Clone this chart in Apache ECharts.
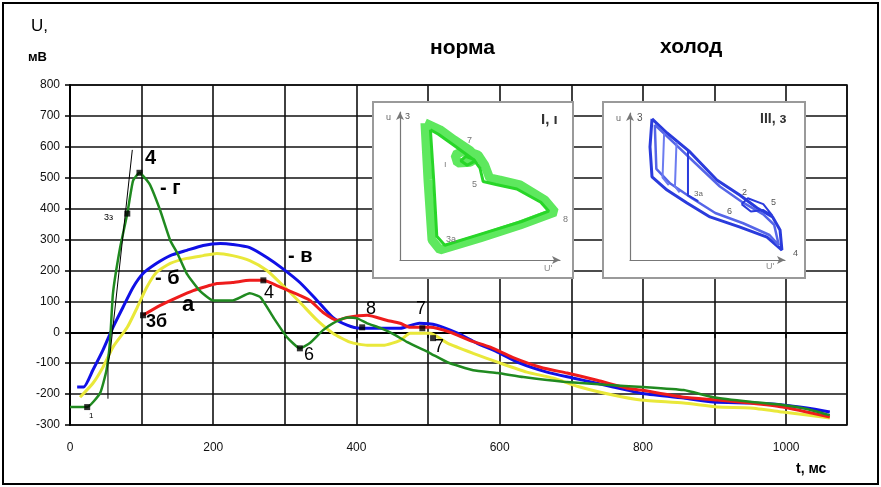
<!DOCTYPE html>
<html>
<head>
<meta charset="utf-8">
<script src="https://cdn.jsdelivr.net/npm/echarts@6/dist/echarts.min.js"></script>
<style>html,body{margin:0;padding:0;background:#fff}#c{width:881px;height:487px}</style>
</head>
<body>
<div id="c"></div>
<script>
// ---- main chart data (t, ms / U, mV) ----
var greenT = [0, 24, 42, 51, 56, 60, 70, 80, 88, 97, 111, 126, 140, 150, 163, 181, 200, 227, 251, 266, 284, 303, 321, 335, 353, 367, 387, 401, 415, 433, 451, 471, 503, 527, 563, 597, 633, 689, 748, 800, 857, 898, 950, 995, 1029, 1061];
var greenU = [-242, -242, -197, -122, -26, 126, 274, 384, 490, 516, 480, 394, 297, 255, 190, 135, 103, 103, 126, 113, 48, -16, -52, -35, 6, 29, 48, 45, 29, 14, -5, -32, -68, -97, -123, -132, -145, -160, -170, -177, -187, -210, -225, -235, -248, -268];
var blueT = [10, 19, 32, 46, 60, 74, 88, 102, 121, 140, 163, 186, 210, 227, 251, 275, 297, 321, 345, 367, 387, 405, 428, 461, 488, 512, 541, 568, 597, 628, 666, 702, 736, 778, 797, 857, 898, 950, 995, 1029, 1061];
var blueU = [-177, -177, -122, -58, 16, 81, 145, 190, 223, 248, 265, 281, 287, 284, 274, 242, 206, 161, 103, 48, 23, 13, 13, 13, 29, 23, -3, -35, -64, -100, -129, -148, -165, -187, -197, -213, -226, -229, -235, -245, -258];
var yellowT = [14, 32, 46, 60, 80, 94, 107, 121, 140, 163, 186, 205, 227, 251, 275, 297, 321, 345, 367, 391, 415, 437, 461, 475, 503, 527, 563, 601, 638, 674, 712, 758, 797, 857, 904, 950, 995, 1061];
var yellowU = [-210, -165, -113, -48, 16, 81, 145, 194, 223, 239, 248, 255, 248, 232, 200, 152, 97, 39, -3, -32, -42, -42, -26, -3, -3, -35, -68, -100, -129, -148, -177, -203, -219, -229, -242, -245, -258, -277];
var redT = [102, 126, 150, 172, 196, 205, 227, 251, 270, 288, 311, 335, 353, 373, 387, 415, 442, 461, 475, 503, 531, 558, 587, 618, 657, 694, 736, 778, 797, 857, 904, 950, 995, 1061];
var redU = [55, 87, 113, 135, 152, 158, 161, 168, 168, 152, 129, 103, 65, 39, 48, 55, 39, 29, 16, 16, 0, -26, -48, -81, -113, -132, -155, -181, -187, -210, -219, -229, -242, -274];
var markerT = [24, 80, 97, 321, 102, 270, 408, 492, 507];
var markerU = [-242, 384, 516, -52, 55, 168, 16, 13, -19];
var tangentT = [53, 53, 56, 87];
var tangentU = [-215, -100, -68, 590];
var xTicks = [0, 200, 400, 600, 800, 1000];

// ---- inset loops (relative units 0..100) ----
var greenLoopX = [15.6, 17.5, 20, 25, 50, 75, 96.9, 90.6, 75, 62.5, 56, 53, 48.8, 40.6, 34.4, 36, 43.8, 48, 43.8, 34, 25, 15.6];
var greenLoopY = [92.6, 54, 13.5, 6.8, 14.9, 23.6, 32.4, 40.5, 50.7, 54, 55.4, 64, 71, 74, 71, 65.5, 66, 69, 74, 81, 88, 92.6];
var greenLoop2X = [19, 21, 23, 28, 52, 76, 93, 88, 73, 60, 52, 50, 46, 41, 38, 42, 47, 42, 33, 24, 19];
var greenLoop2Y = [88, 55, 16, 10, 18, 26, 33, 39, 48, 51, 53, 62, 68, 70, 67, 64, 67, 71, 78, 85, 88];
var blueLoopX = [14.2, 12.9, 14.2, 23.9, 36.8, 51.6, 71, 88.4, 98, 96.8, 92, 82, 71, 56, 38.7, 23.9, 14.2];
var blueLoopY = [96, 77, 56.5, 47.6, 38.8, 29.3, 22.4, 15.6, 6.8, 20.4, 29.3, 35.4, 44, 54.4, 73.5, 86.4, 96];
var blueLoop2X = [16, 17, 26, 40, 55, 73, 90, 96, 93, 86, 73, 58, 42, 28, 16];
var blueLoop2Y = [92, 62, 52, 42, 32, 25, 17, 10, 24, 31, 39, 50, 66, 80, 92];
var blueStrokeAX = [37.4, 37.4, 44];
var blueStrokeAY = [75, 44, 40];
var blueStrokeBX = [30, 29, 32];
var blueStrokeBY = [80, 50, 46];
var blueStrokeCX = [22, 21, 25];
var blueStrokeCY = [86, 56, 51];
var blueSmallX = [72, 78, 86, 92, 86, 76, 72];
var blueSmallY = [38, 33, 34, 30, 38, 42, 38];

function pairs(a, b) { return a.map(function (v, i) { return [v, b[i]]; }); }

var chart = echarts.init(document.getElementById('c'), null, { renderer: 'canvas' });
var FONT = 'Arial, "Liberation Sans", sans-serif';

function lbl(text, left, top, size, weight) {
  return { type: 'text', left: left, top: top, z: 20,
    style: { text: text, fill: '#000', font: (weight || 'bold') + ' ' + size + 'px ' + FONT } };
}

function insetAxes(gi) {
  return {
    gridIndex: gi, min: 0, max: 100, show: true,
    axisLine: { show: true, lineStyle: { color: '#777', width: 1.2 }, symbol: ['none', 'arrow'], symbolSize: [6, 8] },
    axisTick: { show: false }, axisLabel: { show: false }, splitLine: { show: false }, z: 6
  };
}

var option = {
  backgroundColor: '#fff',
  animation: false,
  grid: [
    { left: 70, right: 34, top: 85, bottom: 62, show: true, borderColor: '#000', borderWidth: 1.5, z: 0 },
    { left: 400, top: 112, width: 160, height: 148, z: 6 },
    { left: 630, top: 113, width: 155, height: 147, z: 6 }
  ],
  xAxis: [
    { type: 'value', gridIndex: 0, min: 0, max: 1085, interval: 100,
      axisLine: { lineStyle: { color: '#000', width: 2 } },
      axisTick: { show: true, length: 6, lineStyle: { color: '#000', width: 1.5 } },
      splitLine: { show: true, lineStyle: { color: '#111', width: 1.6 } },
      axisLabel: { color: '#111', fontFamily: FONT, fontSize: 12, margin: 17, showMaxLabel: false,
        formatter: function (v) { return xTicks.indexOf(v) >= 0 ? String(v) : ''; } } },
    Object.assign({}, insetAxes(1), { type: 'value' }),
    Object.assign({}, insetAxes(2), { type: 'value' })
  ],
  yAxis: [
    { type: 'value', gridIndex: 0, min: -300, max: 800, interval: 100,
      axisLine: { show: true, lineStyle: { color: '#000', width: 2 } },
      axisTick: { show: true, length: 5, lineStyle: { color: '#000', width: 1.5 } },
      splitLine: { show: true, lineStyle: { color: '#111', width: 1.6 } },
      axisLabel: { color: '#111', fontFamily: FONT, fontSize: 12, margin: 10 } },
    Object.assign({}, insetAxes(1), { type: 'value' }),
    Object.assign({}, insetAxes(2), { type: 'value' })
  ],
  series: [
    { name: 'б', type: 'line', data: pairs(yellowT, yellowU), showSymbol: false, smooth: 0.2, z: 3,
      lineStyle: { color: '#e9e83a', width: 3 } },
    { name: 'в', type: 'line', data: pairs(blueT, blueU), showSymbol: false, smooth: 0.2, z: 4,
      lineStyle: { color: '#1010e6', width: 3 } },
    { name: 'а', type: 'line', data: pairs(redT, redU), showSymbol: false, smooth: 0.2, z: 5,
      lineStyle: { color: '#ee1c1c', width: 3 } },
    { name: 'г', type: 'line', data: pairs(greenT, greenU), showSymbol: false, smooth: 0.15, z: 6,
      lineStyle: { color: '#208a20', width: 2.5 } },
    { name: 'tangent', type: 'line', data: pairs(tangentT, tangentU), showSymbol: false, z: 7,
      lineStyle: { color: '#000', width: 1 } },
    { name: 'markers', type: 'scatter', data: pairs(markerT, markerU), symbol: 'rect', symbolSize: 6, z: 8,
      itemStyle: { color: '#000' } },
    { type: 'line', xAxisIndex: 1, yAxisIndex: 1, data: pairs(greenLoopX, greenLoopY), showSymbol: false, z: 7,
      lineStyle: { color: '#5ee85e', width: 9 } },
    { type: 'line', xAxisIndex: 1, yAxisIndex: 1, data: pairs(greenLoop2X, greenLoop2Y), showSymbol: false, z: 7,
      lineStyle: { color: '#28d628', width: 3 } },
    { type: 'line', xAxisIndex: 2, yAxisIndex: 2, data: pairs(blueLoopX, blueLoopY), showSymbol: false, z: 7,
      lineStyle: { color: '#2a3bdc', width: 3 } },
    { type: 'line', xAxisIndex: 2, yAxisIndex: 2, data: pairs(blueLoop2X, blueLoop2Y), showSymbol: false, z: 7,
      lineStyle: { color: '#5565e8', width: 2.5 } },
    { type: 'line', xAxisIndex: 2, yAxisIndex: 2, data: pairs(blueStrokeAX, blueStrokeAY), showSymbol: false, z: 7,
      lineStyle: { color: '#2a3bdc', width: 2 } },
    { type: 'line', xAxisIndex: 2, yAxisIndex: 2, data: pairs(blueStrokeBX, blueStrokeBY), showSymbol: false, z: 7,
      lineStyle: { color: '#6c7cf0', width: 2 } },
    { type: 'line', xAxisIndex: 2, yAxisIndex: 2, data: pairs(blueStrokeCX, blueStrokeCY), showSymbol: false, z: 7,
      lineStyle: { color: '#6c7cf0', width: 2 } },
    { type: 'line', xAxisIndex: 2, yAxisIndex: 2, data: pairs(blueSmallX, blueSmallY), showSymbol: false, z: 7,
      lineStyle: { color: '#2a3bdc', width: 2 } }
  ],
  graphic: [
    { type: 'rect', z: -10, silent: true, shape: { x: 3, y: 3, width: 875, height: 481 },
      style: { fill: 'none', stroke: '#000', lineWidth: 2 } },
    { type: 'rect', z: 5, shape: { x: 373, y: 102, width: 200, height: 176 },
      style: { fill: '#fff', stroke: '#9a9a9a', lineWidth: 2 } },
    { type: 'rect', z: 5, shape: { x: 603, y: 102, width: 202, height: 176 },
      style: { fill: '#fff', stroke: '#9a9a9a', lineWidth: 2 } },
    lbl('U,', 31, 18, 17, 'normal'),
    lbl('мВ', 28, 51, 13, 'bold'),
    lbl('t, мс', 796, 462, 14, 'bold'),
    lbl('норма', 430, 38, 21, 'bold'),
    lbl('холод', 660, 37, 21, 'bold'),
    lbl('4', 145, 148, 20, 'bold'),
    lbl('- г', 160, 178, 20, 'bold'),
    lbl('3з', 104, 213, 9, 'normal'),
    lbl('- б', 155, 268, 20, 'bold'),
    lbl('а', 182, 294, 22, 'bold'),
    lbl('3б', 146, 313, 18, 'bold'),
    lbl('- в', 288, 246, 20, 'bold'),
    lbl('4', 264, 284, 18, 'normal'),
    lbl('6', 304, 346, 18, 'normal'),
    lbl('8', 366, 300, 18, 'normal'),
    lbl('7', 416, 300, 18, 'normal'),
    lbl('7', 434, 338, 18, 'normal'),
    lbl('1', 89, 412, 8, 'normal'),
    { type: 'text', left: 386, top: 113, z: 20, style: { text: 'u', fill: '#666', font: '9px ' + FONT } },
    { type: 'text', left: 405, top: 112, z: 20, style: { text: '3', fill: '#555', font: '9px ' + FONT } },
    { type: 'text', left: 541, top: 112, z: 20, style: { text: 'I, ı', fill: '#333', font: 'bold 15px ' + FONT } },
    { type: 'text', left: 467, top: 136, z: 20, style: { text: '7', fill: '#777', font: '9px ' + FONT } },
    { type: 'text', left: 444, top: 160, z: 20, style: { text: 'ı', fill: '#777', font: '9px ' + FONT } },
    { type: 'text', left: 472, top: 180, z: 20, style: { text: '5', fill: '#777', font: '9px ' + FONT } },
    { type: 'text', left: 563, top: 215, z: 20, style: { text: '8', fill: '#777', font: '9px ' + FONT } },
    { type: 'text', left: 446, top: 235, z: 20, style: { text: '3a', fill: '#777', font: '9px ' + FONT } },
    { type: 'text', left: 544, top: 264, z: 20, style: { text: "U'", fill: '#888', font: '9px ' + FONT } },
    { type: 'text', left: 616, top: 114, z: 20, style: { text: 'u', fill: '#666', font: '9px ' + FONT } },
    { type: 'text', left: 637, top: 113, z: 20, style: { text: '3', fill: '#555', font: '10px ' + FONT } },
    { type: 'text', left: 760, top: 112, z: 20, style: { text: 'III, ɜ', fill: '#333', font: 'bold 14px ' + FONT } },
    { type: 'text', left: 694, top: 190, z: 20, style: { text: '3a', fill: '#666', font: '8px ' + FONT } },
    { type: 'text', left: 742, top: 188, z: 20, style: { text: '2', fill: '#555', font: '9px ' + FONT } },
    { type: 'text', left: 771, top: 198, z: 20, style: { text: '5', fill: '#555', font: '9px ' + FONT } },
    { type: 'text', left: 727, top: 207, z: 20, style: { text: '6', fill: '#555', font: '9px ' + FONT } },
    { type: 'text', left: 793, top: 249, z: 20, style: { text: '4', fill: '#555', font: '9px ' + FONT } },
    { type: 'text', left: 766, top: 262, z: 20, style: { text: "U'", fill: '#888', font: '9px ' + FONT } }
  ]
};
chart.setOption(option);
</script>
</body>
</html>
